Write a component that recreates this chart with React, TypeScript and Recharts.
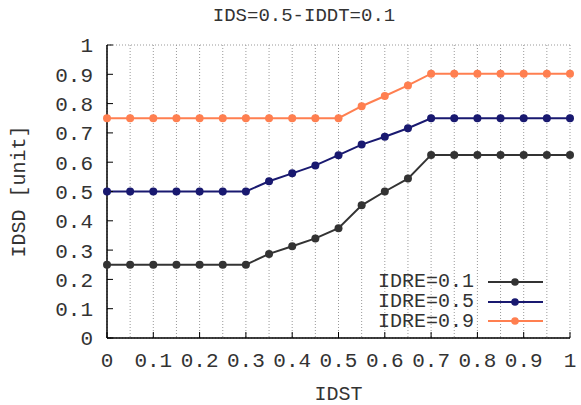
import React from 'react';
import { LineChart, Line, XAxis, YAxis, CartesianGrid, Legend } from 'recharts';

const idst = [0, 0.05, 0.1, 0.15, 0.2, 0.25, 0.3, 0.35, 0.4, 0.45, 0.5, 0.55, 0.6, 0.65, 0.7, 0.75, 0.8, 0.85, 0.9, 0.95, 1];
const idre01 = [0.25, 0.25, 0.25, 0.25, 0.25, 0.25, 0.25, 0.287, 0.313, 0.34, 0.375, 0.453, 0.5, 0.544, 0.625, 0.625, 0.625, 0.625, 0.625, 0.625, 0.625];
const idre05 = [0.5, 0.5, 0.5, 0.5, 0.5, 0.5, 0.5, 0.535, 0.562, 0.589, 0.624, 0.66, 0.687, 0.716, 0.75, 0.75, 0.75, 0.75, 0.75, 0.75, 0.75];
const idre09 = [0.75, 0.75, 0.75, 0.75, 0.75, 0.75, 0.75, 0.75, 0.75, 0.75, 0.75, 0.791, 0.826, 0.862, 0.902, 0.902, 0.902, 0.902, 0.902, 0.902, 0.902];
const xTicks = [0, 0.1, 0.2, 0.3, 0.4, 0.5, 0.6, 0.7, 0.8, 0.9, 1];
const yTicks = [0, 0.1, 0.2, 0.3, 0.4, 0.5, 0.6, 0.7, 0.8, 0.9, 1];
const seriesNames = ['IDRE=0.1', 'IDRE=0.5', 'IDRE=0.9'];
const seriesColors = ['#333333', '#191970', '#ff7f50'];

const data = idst.map((x, i) => ({ x, a: idre01[i], b: idre05[i], c: idre09[i] }));

const FONT = '"Courier New", "Liberation Mono", monospace';
const FS = 20;
const TFS = 21;

const fmt = (v: number) => (v === 0 ? '0' : v === 1 ? '1' : String(v));

const LegendContent = () => (
  <div style={{ fontFamily: FONT, fontSize: FS, color: '#333' }}>
    {seriesNames.map((n, i) => (
      <div key={n} style={{ display: 'flex', alignItems: 'center', justifyContent: 'flex-end', height: 19.7 }}>
        <span style={{ lineHeight: '19px' }}>{n}</span>
        <svg width={60} height={12} style={{ marginLeft: 13 }}>
          <line x1={1} y1={6} x2={56} y2={6} stroke={seriesColors[i]} strokeWidth={2} />
          <circle cx={28} cy={6} r={3.8} fill={seriesColors[i]} />
        </svg>
      </div>
    ))}
  </div>
);

export default function App() {
  return (
    <div style={{ position: 'absolute', left: 0, top: 0, width: 581, height: 405, background: '#fff' }}>
      <LineChart width={581} height={405} data={data} margin={{ top: 45, right: 11, bottom: 0, left: 0 }}>
        <CartesianGrid stroke="#999" strokeDasharray="1 2" />
        <XAxis
          xAxisId="bottom"
          dataKey="x"
          type="number"
          domain={[0, 1]}
          ticks={xTicks}
          interval={0}
          tickFormatter={fmt}
          height={67}
          tickSize={-6}
          tickMargin={20}
          axisLine={{ stroke: '#000', strokeWidth: 1.5 }}
          tickLine={{ stroke: '#000' }}
          tick={{ fill: '#333', fontFamily: FONT, fontSize: TFS }}
          label={{ value: 'IDST', position: 'insideBottom', offset: 5, fill: '#333', fontFamily: FONT, fontSize: FS }}
        />
        <XAxis
          xAxisId="top"
          orientation="top"
          dataKey="x"
          type="number"
          domain={[0, 1]}
          ticks={xTicks}
          interval={0}
          tickFormatter={() => ''}
          height={0}
          tickSize={-6}
          axisLine={{ stroke: '#000', strokeWidth: 1.5 }}
          tickLine={{ stroke: '#000' }}
        />
        <YAxis
          yAxisId="left"
          type="number"
          domain={[0, 1]}
          ticks={yTicks}
          interval={0}
          tickFormatter={fmt}
          width={107}
          tickSize={-6}
          tickMargin={20}
          axisLine={{ stroke: '#000', strokeWidth: 1.5 }}
          tickLine={{ stroke: '#000' }}
          tick={{ fill: '#333', fontFamily: FONT, fontSize: TFS }}
          label={{ value: 'IDSD [unit]', angle: -90, position: 'insideLeft', offset: 18, style: { textAnchor: 'middle' }, fill: '#333', fontFamily: FONT, fontSize: FS }}
        />
        <YAxis
          yAxisId="right"
          orientation="right"
          type="number"
          domain={[0, 1]}
          ticks={yTicks}
          interval={0}
          tickFormatter={() => ''}
          width={0}
          tickSize={-6}
          axisLine={{ stroke: '#000', strokeWidth: 1.5 }}
          tickLine={{ stroke: '#000' }}
        />
        <Line xAxisId="bottom" yAxisId="left" dataKey="a" name={seriesNames[0]} stroke={seriesColors[0]} strokeWidth={2} dot={{ r: 4, fill: seriesColors[0], stroke: seriesColors[0], strokeWidth: 0 }} isAnimationActive={false} />
        <Line xAxisId="bottom" yAxisId="left" dataKey="b" name={seriesNames[1]} stroke={seriesColors[1]} strokeWidth={2} dot={{ r: 4, fill: seriesColors[1], stroke: seriesColors[1], strokeWidth: 0 }} isAnimationActive={false} />
        <Line xAxisId="bottom" yAxisId="left" dataKey="c" name={seriesNames[2]} stroke={seriesColors[2]} strokeWidth={2} dot={{ r: 4, fill: seriesColors[2], stroke: seriesColors[2], strokeWidth: 0 }} isAnimationActive={false} />
        <Legend
          layout="horizontal"
          verticalAlign="middle"
          align="center"
          content={<LegendContent />}
          wrapperStyle={{ position: 'absolute', left: 300, top: 272, width: 247 }}
        />
        <text x={304} y={21} textAnchor="middle" fill="#333" fontFamily={FONT} fontSize={19}>IDS=0.5-IDDT=0.1</text>
      </LineChart>
    </div>
  );
}
